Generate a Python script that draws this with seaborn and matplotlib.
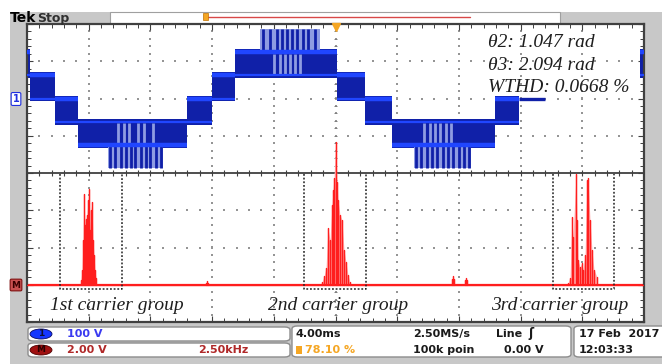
import numpy as np
import pandas as pd
import matplotlib
matplotlib.use("Agg")
import matplotlib.pyplot as plt
import seaborn as sns
from matplotlib.patches import Rectangle, FancyBboxPatch, Ellipse

# ---------------------------------------------------------------------------
# Channel 1: seven-level inverter output, in screen divisions (4 ms/div, 100 V/div)
# ---------------------------------------------------------------------------
CH1_ZERO = 2.0        # ground reference of channel 1
LEVEL_STEP = 0.62     # one inverter voltage step

seg_start = [0.00, 0.05, 0.45, 0.83, 2.60, 3.00, 3.37, 5.02, 5.48, 5.92, 7.58, 7.97, 9.93]
seg_end   = [0.05, 0.45, 0.83, 2.60, 3.00, 3.37, 5.02, 5.48, 5.92, 7.58, 7.97, 8.40, 10.00]
seg_low   = [1, 0, -1, -2, -1, 0, 1, 0, -1, -2, -1, 0, 1]
seg_high  = [2, 1, 0, -1, 0, 1, 2, 1, 0, -1, 0, 0, 2]
seg_dwell = [2, 1, 0, -2, 0, 1, 2, 1, 0, -2, 0, 0, 2]

# sparse switching bursts out to the outermost level around each peak
burst_start = [1.31, 3.78, 6.27]
burst_end   = [2.20, 4.75, 7.20]
burst_inner = [-2, 2, -2]
burst_outer = [-3, 3, -3]
burst_edge  = [-1, 1, -1]
streaks_dark = [
    [1.35, 1.43, 1.52, 1.61, 1.69, 1.75, 1.85, 1.93, 1.99, 2.09, 2.17],
    [3.83, 3.94, 4.05, 4.13, 4.21, 4.30, 4.38, 4.47, 4.55, 4.67],
    [6.31, 6.39, 6.48, 6.56, 6.65, 6.74, 6.82, 6.90, 7.00, 7.08, 7.16],
]
streaks_pale = [
    [1.47, 1.57, 1.65, 1.80, 1.90, 2.04],
    [4.00, 4.10, 4.18, 4.26, 4.34, 4.43],
    [6.43, 6.53, 6.61, 6.69, 6.79, 6.87],
]

# ---------------------------------------------------------------------------
# Math channel: FFT magnitude (2.50 kHz/div), in screen divisions
# ---------------------------------------------------------------------------
FFT_BASE = -3.0
group1_x = [0.875, 0.891, 0.908, 0.924, 0.940, 0.956, 0.972, 0.989,
            1.005, 1.021, 1.037, 1.053, 1.070, 1.086, 1.102, 1.118]
group1_y = [-2.87, -2.60, -1.80, -0.56, -1.40, -1.24, -1.13, -0.73,
            -0.43, -1.53, -0.99, -0.78, -1.80, -2.20, -2.60, -2.82]
group2_x = [4.781, 4.814, 4.846, 4.878, 4.911, 4.943, 4.959, 4.976, 5.000,
            5.024, 5.041, 5.073, 5.105, 5.138, 5.170, 5.203, 5.235]
group2_y = [-2.93, -2.77, -2.55, -1.48, -1.80, -0.86, -0.46, -0.13, 0.83,
            -0.24, -0.73, -1.13, -1.26, -2.07, -2.39, -2.74, -2.93]
group3_x = [8.768, 8.801, 8.833, 8.849, 8.898, 8.914, 8.930, 8.963, 8.995,
            9.011, 9.044, 9.076, 9.092, 9.125, 9.157, 9.190, 9.238]
group3_y = [-2.95, -2.82, -1.18, -1.72, -0.03, -1.26, -2.34, -2.52, -2.42,
            -2.60, -2.20, -0.19, -0.13, -1.26, -2.07, -2.60, -2.79]
bump_x = [2.90, 2.917, 2.93, 6.89, 6.904, 6.92, 7.10, 7.115, 7.13]
bump_y = [-2.95, -2.90, -2.95, -2.85, -2.77, -2.85, -2.88, -2.82, -2.88]

group_box_x0 = [0.535, 4.489, 8.525]
group_box_x1 = [1.540, 5.494, 9.514]
group_box_top = -0.04
group_box_bottom = -3.12
group_names = ["1st carrier group", "2nd carrier group", "3rd carrier group"]
group_label_x = [1.46, 5.04, 8.64]

result_lines = ["θ2: 1.047 rad", "θ3: 2.094 rad", "WTHD: 0.0668 %"]

# readout panel texts
ch1_scale = "100 V"
math_scale = "2.00 V"
math_span = "2.50kHz"
time_base = "4.00ms"
sample_rate = "2.50MS/s"
trigger_src = "Line"
trigger_pos = "78.10 %"
record_len = "100k poin"
trigger_lvl = "0.00 V"
date_str = "17 Feb  2017"
time_str = "12:03:33"

# ---------------------------------------------------------------------------
sns.set_theme(style="white")
plt.rcParams["font.family"] = ["DejaVu Sans"]

W, H = 662, 364
def fx(px):
    return px / W
def fy(py):
    return 1 - py / H

NAVY = "#1020a8"
BRIGHT = "#2046ff"
PALE = "#8e9ce2"
RED = "#ff1e1e"
PINK = "#ffb4b4"
BEZEL = "#c8c8c8"

fig = plt.figure(figsize=(W / 100, H / 100), dpi=100)
fig.patch.set_facecolor("white")

# instrument bezel and top status strip
fig.patches.append(Rectangle((fx(10), 0), 1 - fx(10), fy(12), transform=fig.transFigure,
                             fc=BEZEL, ec="none", zorder=-3))
fig.patches.append(Rectangle((fx(110), fy(24)), fx(560) - fx(110), fy(12) - fy(24),
                             transform=fig.transFigure, fc="white", ec="#a0a0a0", lw=0.8, zorder=-2))
fig.lines.append(plt.Line2D([fx(208), fx(470)], [fy(16.5), fy(16.5)], transform=fig.transFigure,
                            color="#d84848", lw=1.0, zorder=-1))
fig.patches.append(Rectangle((fx(203), fy(20)), 5 / W, 7 / H, transform=fig.transFigure,
                             fc="#f5a623", ec="#c07000", lw=0.5, zorder=-1))
fig.text(fx(10), fy(18.5), "Tek", fontsize=10, fontweight="bold", color="black", va="center")
fig.text(fx(37), fy(18.5), "Stop", fontsize=9, fontweight="bold", color="#303030", va="center")

ax = fig.add_axes([fx(27), fy(322), fx(644) - fx(27), fy(24) - fy(322)])
ax.set_zorder(1)
ax.set_facecolor("white")
ax.set_xlim(0, 10)
ax.set_ylim(-4, 4)

# graticule: dotted division lines, solid split line with ticks
minor = np.arange(-4, 4.001, 0.2)
minor_x = np.arange(0, 10.001, 0.2)
gx, gy = np.meshgrid(np.arange(1, 10), minor)
ax.scatter(gx.ravel(), gy.ravel(), s=1.6, marker="s", color="#959595", lw=0, zorder=0.5)
hy = [v for v in range(-3, 4) if v != 0]
hx, hyy = np.meshgrid(minor_x, hy)
ax.scatter(hx.ravel(), hyy.ravel(), s=1.6, marker="s", color="#959595", lw=0, zorder=0.5)
ax.axhline(0, color="#404040", lw=1.3, zorder=0.6)
ax.vlines(minor_x, -0.07, 0.07, color="#404040", lw=0.8, zorder=0.6)
ax.hlines(minor, 4.97, 5.03, color="#808080", lw=0.7, zorder=0.6)

ax.set_xticks(np.arange(0, 10.001, 1))
ax.set_xticks(minor_x, minor=True)
ax.set_yticks(np.arange(-4, 4.001, 1))
ax.set_yticks(minor, minor=True)
ax.tick_params(which="both", direction="in", top=True, right=True, bottom=True, left=True,
               labelbottom=False, labelleft=False, color="#404040")
ax.tick_params(which="major", length=4, width=0.8)
ax.tick_params(which="minor", length=3, width=0.7)
for sp in ax.spines.values():
    sp.set_color("#404040")
    sp.set_linewidth(1.6)


def lv(k):
    return CH1_ZERO + LEVEL_STEP * k


# channel 1 switching bands
pad = 0.08
for x0, x1, lo, hi, dw in zip(seg_start, seg_end, seg_low, seg_high, seg_dwell):
    if lo == hi:
        ax.plot([x0, x1], [lv(lo), lv(lo)], color=NAVY, lw=2.4, zorder=3, solid_capstyle="butt")
        continue
    ax.fill_between([x0, x1], lv(lo) - pad, lv(hi) + pad, color=NAVY, lw=0, zorder=1)

# bursts to the outer level
for b0, b1, inner, outer, edge, dark, pale in zip(burst_start, burst_end, burst_inner,
                                                  burst_outer, burst_edge, streaks_dark, streaks_pale):
    lo, hi = sorted([lv(inner), lv(outer)])
    ax.fill_between([b0, b1], lo, hi, color=PALE, lw=0, zorder=1.2)
    ax.vlines(dark, lo, hi, color=NAVY, lw=2.0, zorder=1.4)
    elo, ehi = sorted([lv(inner), lv(edge)])
    ax.vlines(pale, elo + 0.05, ehi - 0.05, color=PALE, lw=2.0, zorder=1.5)

# dense dwell levels
for x0, x1, lo, hi, dw in zip(seg_start, seg_end, seg_low, seg_high, seg_dwell):
    if lo == hi:
        continue
    other = lo if dw == hi else hi
    ax.plot([x0, x1], [lv(dw), lv(dw)], color=BRIGHT, lw=3.2, zorder=3, solid_capstyle="butt")
    ax.plot([x0, x1], [lv(other), lv(other)], color=BRIGHT, lw=1.6, zorder=3, solid_capstyle="butt")

# FFT trace
for gxs, gys in ((group1_x, group1_y), (group2_x, group2_y), (group3_x, group3_y)):
    ax.fill_between(gxs, FFT_BASE, gys, color=PINK, lw=0, zorder=2)

peaks = sorted(zip(group1_x + group2_x + group3_x + bump_x,
                   group1_y + group2_y + group3_y + bump_y))
rows = [(0.0, FFT_BASE)]
for px_, py_ in peaks:
    rows += [(px_, FFT_BASE), (px_, py_), (px_, FFT_BASE)]
rows.append((10.0, FFT_BASE))
trace = pd.DataFrame(rows, columns=["freq_div", "mag_div"])
ax.plot([0, 10], [FFT_BASE, FFT_BASE], color=RED, lw=1.6, zorder=2.5)
sns.lineplot(data=trace, x="freq_div", y="mag_div", sort=False, estimator=None,
             color=RED, lw=0.9, ax=ax, zorder=3)
ax.set_xlabel("")
ax.set_ylabel("")

# carrier-group frames and labels
for x0, x1, name, lx in zip(group_box_x0, group_box_x1, group_names, group_label_x):
    ax.plot([x0, x0, x1, x1], [group_box_top, group_box_bottom, group_box_bottom, group_box_top],
            color="#202020", lw=1.1, ls=(0, (1.2, 1.2)), zorder=4)
    ax.text(lx, -3.55, name, ha="center", va="center", fontsize=14, style="italic",
            family=["Liberation Serif", "DejaVu Serif"], color="#1e1e1e", zorder=5)

for i, line in enumerate(result_lines):
    ax.text(7.47, 3.38 - 0.605 * i, line, ha="left", va="baseline", fontsize=14, style="italic",
            family=["Liberation Serif", "DejaVu Serif"], color="#1e1e1e", zorder=5)

# trigger-position marker
ax.plot([5], [3.93], marker="v", color="#f5a623", ms=6, clip_on=False, zorder=6)

# channel reference markers
fig.text(fx(16), fy(99), "1", fontsize=7, fontweight="bold", color="#2030e0", ha="center", va="center",
         bbox=dict(boxstyle="round,pad=0.15", fc="white", ec="#2030e0", lw=0.8))
fig.text(fx(16), fy(285), "M", fontsize=6.5, fontweight="bold", color="#3a0000", ha="center", va="center",
         bbox=dict(boxstyle="round,pad=0.15", fc="#c85050", ec="#801010", lw=0.8))

# readout panel
def status_box(x0, y0, x1, y1):
    fig.patches.append(FancyBboxPatch((fx(x0), fy(y1)), fx(x1) - fx(x0), fy(y0) - fy(y1),
                                      boxstyle="round,pad=0,rounding_size=0.008",
                                      transform=fig.transFigure, fc="white", ec="#8c8c8c",
                                      lw=1.0, zorder=1))

status_box(28, 327, 290, 341)
status_box(28, 343, 290, 357)
status_box(292, 326, 571, 357)
status_box(574, 326, 672, 357)

fig.patches.append(Ellipse((fx(41), fy(334)), 22 / W, 10 / H, transform=fig.transFigure,
                           fc="#1436ff", ec="#0a0a60", lw=0.6, zorder=2))
fig.text(fx(41), fy(334), "1", fontsize=6.5, fontweight="bold", color="#101030", ha="center", va="center")
fig.patches.append(Ellipse((fx(41), fy(350)), 22 / W, 10 / H, transform=fig.transFigure,
                           fc="#a01010", ec="#500000", lw=0.6, zorder=2))
fig.text(fx(41), fy(350), "M", fontsize=6.5, fontweight="bold", color="#2a0000", ha="center", va="center")

ts = dict(fontsize=8, fontweight="bold", va="center")
fig.text(fx(67), fy(334), ch1_scale, color="#3a3af0", **ts)
fig.text(fx(67), fy(350), math_scale, color="#b02828", **ts)
fig.text(fx(198), fy(350), math_span, color="#b02828", **ts)
fig.text(fx(296), fy(334), time_base, color="#1a1a1a", **ts)
fig.text(fx(413), fy(334), sample_rate, color="#1a1a1a", **ts)
fig.text(fx(496), fy(334), trigger_src, color="#1a1a1a", **ts)
fig.text(fx(528), fy(334), "ʃ", color="#1a1a1a", fontsize=9, fontweight="bold", va="center")
fig.patches.append(Rectangle((fx(296), fy(354)), 6 / W, 8 / H, transform=fig.transFigure,
                             fc="#f5a623", ec="none", zorder=2))
fig.text(fx(305), fy(350), trigger_pos, color="#f5a623", **ts)
fig.text(fx(413), fy(350), record_len, color="#1a1a1a", **ts)
fig.text(fx(504), fy(350), trigger_lvl, color="#1a1a1a", **ts)
fig.text(fx(579), fy(334), date_str, color="#1a1a1a", **ts)
fig.text(fx(579), fy(350), time_str, color="#1a1a1a", **ts)

fig.savefig("out.png", dpi=100)
